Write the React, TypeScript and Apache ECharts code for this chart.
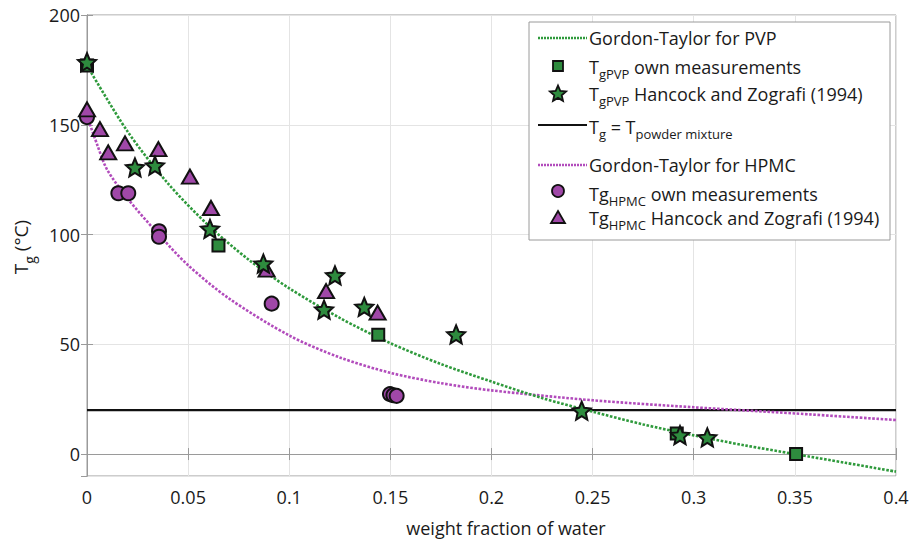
import React, { useEffect, useRef } from "react";
import * as echarts from "echarts";

const FONT = '"Open Sans", "Noto Sans", sans-serif';

// Gordon-Taylor curves
const pvpCurveW = [0, 0.02, 0.04, 0.06, 0.08, 0.1, 0.125, 0.15, 0.175, 0.2, 0.225, 0.25, 0.275, 0.3, 0.325, 0.35, 0.375, 0.4];
const pvpCurveT = [177, 147, 123.3, 104.2, 88.5, 75.5, 62, 50.5, 41, 33, 25.5, 19.3, 13.5, 8.5, 4, 0, -4, -8];
const hpmcCurveW = [0, 0.005, 0.01, 0.02, 0.035, 0.05, 0.07, 0.1, 0.125, 0.15, 0.175, 0.2, 0.25, 0.3, 0.35, 0.4];
const hpmcCurveT = [154, 141, 129.5, 116.5, 100.5, 86, 71, 54, 44, 37, 32.3, 29, 24.5, 21.3, 18.5, 15.5];

// Powder mixture temperature line
const powderW = [0, 0.4];
const powderT = [20, 20];

// T_gPVP own measurements (squares)
const pvpOwnW = [0, 0.065, 0.144, 0.2916, 0.3506];
const pvpOwnT = [177, 95, 54.3, 9.4, 0];

// T_gPVP Hancock and Zografi (stars)
const pvpHzW = [0, 0.0237, 0.0336, 0.0608, 0.0872, 0.1172, 0.1226, 0.1371, 0.1825, 0.2446, 0.2932, 0.3067];
const pvpHzT = [178.5, 130.6, 131.4, 102.6, 86.7, 65.8, 81.4, 67, 54.5, 19.8, 8.6, 7.6];

// Tg_HPMC own measurements (circles)
const hpmcOwnW = [0, 0.0155, 0.0204, 0.0356, 0.0356, 0.0913, 0.1498, 0.1515, 0.1531];
const hpmcOwnT = [153.5, 118.8, 118.8, 101.5, 99, 68.5, 27.3, 26.8, 26.5];

// Tg_HPMC Hancock and Zografi (triangles)
const hpmcHzW = [0, 0.0064, 0.0105, 0.0188, 0.0353, 0.0509, 0.0613, 0.0888, 0.1182, 0.1437];
const hpmcHzT = [157, 148, 137.4, 141.5, 138.9, 126.4, 112.1, 84, 74.2, 64.4];

const GREEN_LINE = "#2f9a3c";
const GREEN_FILL = "#2e8b3e";
const MAG_LINE = "#b24cbc";
const MAG_FILL = "#a048a8";

const STAR =
  "path://M50,2 L62.93,32.2 L95.65,35.17 L70.92,56.8 L78.21,88.83 L50,72 L21.79,88.83 L29.08,56.8 L4.35,35.17 L37.07,32.2 Z";

const zip = (a: number[], b: number[]) => a.map((v, i) => [v, b[i]]);

function starPoints(cx: number, cy: number, ro: number, ri: number) {
  const pts: number[][] = [];
  for (let i = 0; i < 10; i++) {
    const r = i % 2 === 0 ? ro : ri;
    const a = -Math.PI / 2 + (i * Math.PI) / 5;
    pts.push([cx + r * Math.cos(a), cy + r * Math.sin(a)]);
  }
  return pts;
}

const rich = {
  m: { fontSize: 18, fontFamily: FONT, fill: "#1a1a1a" },
  s: { fontSize: 13, fontFamily: FONT, fill: "#1a1a1a", padding: [13, 0, 0, 0] },
};

function legendText(x: number, y: number, text: string) {
  return {
    type: "text",
    x,
    y,
    z: 101,
    style: { text, rich, align: "left", verticalAlign: "middle", fontFamily: FONT, fontSize: 18, fill: "#1a1a1a" },
  };
}

const markerStyle = (fill: string) => ({ color: fill, borderColor: "#111", borderWidth: 2, opacity: 1 });

export default function App() {
  const ref = useRef<HTMLDivElement>(null);
  useEffect(() => {
    if (!ref.current) return;
    const chart = echarts.init(ref.current, undefined, { renderer: "svg" });
    const ix = 558;
    const lx0 = 538;
    const lx1 = 587;
    const tx = 589;
    const option: any = {
      animation: false,
      backgroundColor: "#ffffff",
      grid: { left: 87, right: 17, top: 15, bottom: 66, show: true, borderColor: "#9a9a9a", borderWidth: 1 },
      xAxis: [
        {
          type: "value",
          min: 0,
          max: 0.4,
          interval: 0.05,
          axisLine: { show: true, lineStyle: { color: "#9a9a9a", width: 1 } },
          axisTick: { show: true, inside: true, length: 6, lineStyle: { color: "#9a9a9a" } },
          axisLabel: {
            color: "#1a1a1a",
            fontSize: 18,
            fontFamily: FONT,
            margin: 12,
            formatter: (v: number) => String(parseFloat(v.toFixed(2))),
          },
          splitLine: { show: true, lineStyle: { color: "#e4e4e4", width: 1 } },
        },
        {
          type: "value",
          position: "top",
          min: 0,
          max: 0.4,
          interval: 0.05,
          axisLine: { show: true, lineStyle: { color: "#9a9a9a" } },
          axisTick: { show: true, inside: true, length: 6, lineStyle: { color: "#9a9a9a" } },
          axisLabel: { show: false },
          splitLine: { show: false },
        },
      ],
      yAxis: [
        {
          type: "value",
          min: -10,
          max: 200,
          splitNumber: 4,
          axisLine: { show: true, lineStyle: { color: "#9a9a9a", width: 1 } },
          axisTick: { show: true, inside: true, length: 6, lineStyle: { color: "#9a9a9a" } },
          axisLabel: {
            color: "#1a1a1a",
            fontSize: 18,
            fontFamily: FONT,
            margin: 7,
            showMinLabel: false,
            formatter: (v: number) => (v < 0 ? "" : String(v)),
          },
          splitLine: { show: true, lineStyle: { color: "#e4e4e4", width: 1 } },
        },
        {
          type: "value",
          position: "right",
          min: -10,
          max: 200,
          splitNumber: 4,
          axisLine: { show: true, lineStyle: { color: "#9a9a9a" } },
          axisTick: { show: true, inside: true, length: 6, lineStyle: { color: "#9a9a9a" } },
          axisLabel: { show: false },
          splitLine: { show: false },
        },
      ],
      series: [
        {
          type: "line",
          data: zip(powderW, powderT),
          symbol: "none",
          lineStyle: { color: "#111", width: 2.2 },
          z: 2,
        },
        {
          type: "line",
          data: zip(hpmcCurveW, hpmcCurveT),
          symbol: "none",
          smooth: 0.3,
          lineStyle: { color: MAG_LINE, width: 2.6, type: [2.6, 1.6] },
          z: 3,
        },
        {
          type: "line",
          data: zip(pvpCurveW, pvpCurveT),
          symbol: "none",
          smooth: 0.3,
          lineStyle: { color: GREEN_LINE, width: 2.6, type: [2.6, 1.6] },
          z: 3,
        },
        {
          type: "scatter",
          data: zip(pvpOwnW, pvpOwnT),
          symbol: "rect",
          symbolSize: 12,
          itemStyle: markerStyle(GREEN_FILL),
          z: 4,
        },
        {
          type: "scatter",
          data: zip(hpmcOwnW, hpmcOwnT),
          symbol: "circle",
          symbolSize: 14,
          itemStyle: markerStyle(MAG_FILL),
          z: 4,
        },
        {
          type: "scatter",
          data: zip(hpmcHzW, hpmcHzT),
          symbol: "triangle",
          symbolSize: [16, 14],
          itemStyle: markerStyle(MAG_FILL),
          z: 5,
        },
        {
          type: "scatter",
          data: zip(pvpHzW, pvpHzT),
          symbol: STAR,
          symbolSize: 18,
          itemStyle: markerStyle(GREEN_FILL),
          z: 6,
        },
      ],
      graphic: [
        // Y axis name
        {
          type: "text",
          x: 21,
          y: 247,
          rotation: Math.PI / 2,
          style: {
            text: "{m|T}{s|g}{m| (°C)}",
            rich: {
              m: { fontSize: 19, fontFamily: FONT, fill: "#1a1a1a" },
              s: { fontSize: 14, fontFamily: FONT, fill: "#1a1a1a", padding: [17, 0, 0, 0] },
            },
            align: "center",
            verticalAlign: "middle",
          },
        },
        // X axis name
        {
          type: "text",
          x: 506,
          y: 528,
          style: { text: "weight fraction of water", fontSize: 18, fontFamily: FONT, fill: "#1a1a1a", align: "center", verticalAlign: "middle" },
        },
        // Legend box
        {
          type: "rect",
          z: 100,
          shape: { x: 529, y: 22, width: 361, height: 218 },
          style: { fill: "#ffffff", stroke: "#9a9a9a", lineWidth: 1 },
        },
        { type: "line", z: 101, shape: { x1: lx0, y1: 38, x2: lx1, y2: 38 }, style: { stroke: GREEN_LINE, lineWidth: 2.4, lineDash: [2, 1] } },
        legendText(tx, 38, "{m|Gordon-Taylor for PVP}"),
        { type: "rect", z: 101, shape: { x: ix - 5, y: 66 - 5, width: 10, height: 10 }, style: { fill: GREEN_FILL, stroke: "#111", lineWidth: 1.8 } },
        legendText(tx, 67, "{m|T}{s|gPVP}{m| own measurements}"),
        { type: "polygon", z: 101, shape: { points: starPoints(ix, 94, 8.5, 3.9) }, style: { fill: GREEN_FILL, stroke: "#111", lineWidth: 1.8 } },
        legendText(tx, 94, "{m|T}{s|gPVP}{m| Hancock and Zografi (1994)}"),
        { type: "line", z: 101, shape: { x1: lx0, y1: 125, x2: lx1, y2: 125 }, style: { stroke: "#111", lineWidth: 2 } },
        legendText(tx, 127, "{m|T}{s|g}{m| = T}{s|powder mixture}"),
        { type: "line", z: 101, shape: { x1: lx0, y1: 165, x2: lx1, y2: 165 }, style: { stroke: MAG_LINE, lineWidth: 2.4, lineDash: [2, 1] } },
        legendText(tx, 165, "{m|Gordon-Taylor for HPMC}"),
        { type: "circle", z: 101, shape: { cx: ix, cy: 191, r: 6 }, style: { fill: MAG_FILL, stroke: "#111", lineWidth: 1.8 } },
        legendText(tx, 194, "{m|Tg}{s|HPMC}{m| own measurements}"),
        { type: "polygon", z: 101, shape: { points: [[ix, 211], [ix + 7, 223], [ix - 7, 223]] }, style: { fill: MAG_FILL, stroke: "#111", lineWidth: 1.8 } },
        legendText(tx, 218, "{m|Tg}{s|HPMC}{m| Hancock and Zografi (1994)}"),
      ],
    };
    chart.setOption(option);
    return () => chart.dispose();
  }, []);
  return <div ref={ref} style={{ position: "fixed", left: 0, top: 0, width: 913, height: 542 }} />;
}
